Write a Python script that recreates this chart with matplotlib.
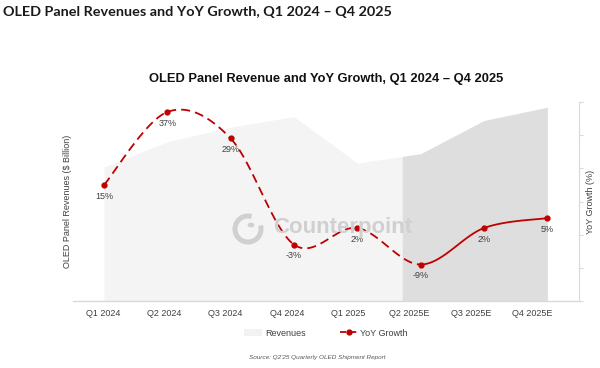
"""OLED panel revenues and YoY growth, Q1 2024 - Q4 2025."""

import matplotlib as mpl
import numpy as np
from matplotlib import pyplot as plt
from matplotlib.lines import Line2D
from matplotlib.patches import Arc, Circle, Patch

mpl.use("Agg")

quarters = ["Q1 2024", "Q2 2024", "Q3 2024", "Q4 2024",
            "Q1 2025", "Q2 2025E", "Q3 2025E", "Q4 2025E"]
revenues = [10.1, 12.0, 13.1, 13.9, 10.4, 11.1, 13.6, 14.6]  # $ billion (no scale shown)
yoy_growth = [15, 37, 29, -3, 2, -9, 2, 5]  # %
first_estimate = 5  # index of first forecast quarter (line turns solid)
shade_start = 4.71  # where the forecast shading begins on the category axis

RED = "#c00000"
TEXT = "#404040"
GRID = "#d9d9d9"
MARK = "#d0d0d0"


def smooth_curve(x, y, steps=30):
    """Excel-style smoothed line (Catmull-Rom as cubic Bezier segments)."""
    x = np.asarray(x, dtype=float)
    y = np.asarray(y, dtype=float)
    px = np.concatenate([[x[0]], x, [x[-1]]])
    py = np.concatenate([[y[0]], y, [y[-1]]])
    out_x, out_y = [], []
    t = np.linspace(0, 1, steps)
    for i in range(1, len(px) - 2):
        p0 = np.array([px[i], py[i]])
        p3 = np.array([px[i + 1], py[i + 1]])
        c1 = p0 + (np.array([px[i + 1], py[i + 1]]) - np.array([px[i - 1], py[i - 1]])) / 6
        c2 = p3 - (np.array([px[i + 2], py[i + 2]]) - np.array([px[i], py[i]])) / 6
        b = ((1 - t) ** 3)[:, None] * p0 + (3 * (1 - t) ** 2 * t)[:, None] * c1 \
            + (3 * (1 - t) * t ** 2)[:, None] * c2 + (t ** 3)[:, None] * p3
        out_x.append(b[:, 0])
        out_y.append(b[:, 1])
    return out_x, out_y


plt.rcParams["font.family"] = ["Liberation Sans", "DejaVu Sans"]

fig = plt.figure(figsize=(6.0, 3.68), dpi=100)
ax = fig.add_axes([73 / 600, 67 / 368, 506 / 600, 199 / 368])
x = np.arange(len(quarters))

# revenue areas
ax.fill_between(x, revenues, color="#f4f4f4", linewidth=0, zorder=1)
xs = np.linspace(shade_start, x[-1], 200)
ax.fill_between(xs, np.interp(xs, x, revenues), color="#dedede", linewidth=0, zorder=2)
ax.set_xlim(-0.49, 7.5)
ax.set_ylim(0, 15)
ax.set_yticks([])
for side in ("left", "top", "right"):
    ax.spines[side].set_visible(False)
ax.spines["bottom"].set_color(GRID)
ax.spines["bottom"].set_linewidth(1.0)
ax.set_xticks(-0.5 + (x + 0.5) * 0.968, quarters)
ax.tick_params(axis="x", length=0, pad=6, labelsize=6.5, labelcolor=TEXT)
ax.set_ylabel("OLED Panel Revenues ($ Billion)", fontsize=6.5, color=TEXT)
ax.yaxis.set_label_coords(-0.002, 0.5)

# watermark
fig.text(273 / 600, 1 - 228 / 368, "Counterpoint", fontsize=16, fontweight="bold",
         color=MARK, ha="left", va="center", zorder=3)
logo = (248 / 600, 1 - 229 / 368)
fig.add_artist(Arc(logo, 26 / 600, 26 / 368, theta1=80, theta2=25, color=MARK,
                   linewidth=3.6, transform=fig.transFigure))
fig.add_artist(Circle((251 / 600, 1 - 225 / 368), 0.0045, color=MARK,
                      transform=fig.transFigure))

# YoY growth line
ax2 = ax.twinx()
ax2.set_ylim(-20, 40)
ax2.set_yticks(np.arange(-20, 41, 10))
ax2.tick_params(axis="y", length=3, color=GRID, labelright=False)
for side in ("left", "top", "bottom"):
    ax2.spines[side].set_visible(False)
ax2.spines["right"].set_color(GRID)
ax2.set_ylabel("YoY Growth (%)", fontsize=6.5, color=TEXT)
ax2.yaxis.set_label_coords(1.014, 0.5)

seg_x, seg_y = smooth_curve(x, yoy_growth)
for i, (sx, sy) in enumerate(zip(seg_x, seg_y)):
    if i < first_estimate:
        ax2.plot(sx, sy, color=RED, linewidth=1.3, dashes=(5, 2.8), zorder=4)
    else:
        ax2.plot(sx, sy, color=RED, linewidth=1.3, zorder=4)
ax2.plot(x, yoy_growth, "o", color=RED, markersize=3.5, zorder=5)
for xi, val in zip(x, yoy_growth):
    ax2.annotate(f"{val}%", (xi, val), xytext=(0, -8), textcoords="offset points",
                 ha="center", va="center", fontsize=6.5, color=TEXT)

# titles and notes
fig.text(3 / 600, 1 - 12 / 368, "OLED Panel Revenues and YoY Growth, Q1 2024 \u2013 Q4 2025",
         fontsize=10.4, fontweight="bold", family="Lato", color="#1a1a1a", va="center")
fig.text(326 / 600, 1 - 79 / 368, "OLED Panel Revenue and YoY Growth, Q1 2024 \u2013 Q4 2025",
         fontsize=9.3, fontweight="bold", color="#111111", ha="center", va="center")
fig.text(317 / 600, 1 - 357 / 368, "Source: Q2'25 Quarterly OLED Shipment Report",
         fontsize=4.6, style="italic", color="#595959", ha="center", va="center")

handles = [
    Patch(facecolor="#f2f2f2", edgecolor="none"),
    Line2D([], [], color=RED, linewidth=1.3, dashes=(3.5, 2.0),
           marker="o", markersize=3.5),
]
fig.legend(handles, ["Revenues", "YoY Growth"], loc="center", ncol=2,
           bbox_to_anchor=(326 / 600, 1 - 333 / 368), frameon=False, fontsize=6.5,
           labelcolor=TEXT, handlelength=2.0, handleheight=0.8, columnspacing=3.8,
           handletextpad=0.3)

fig.savefig("out.png", dpi=100)
plt.close(fig)
